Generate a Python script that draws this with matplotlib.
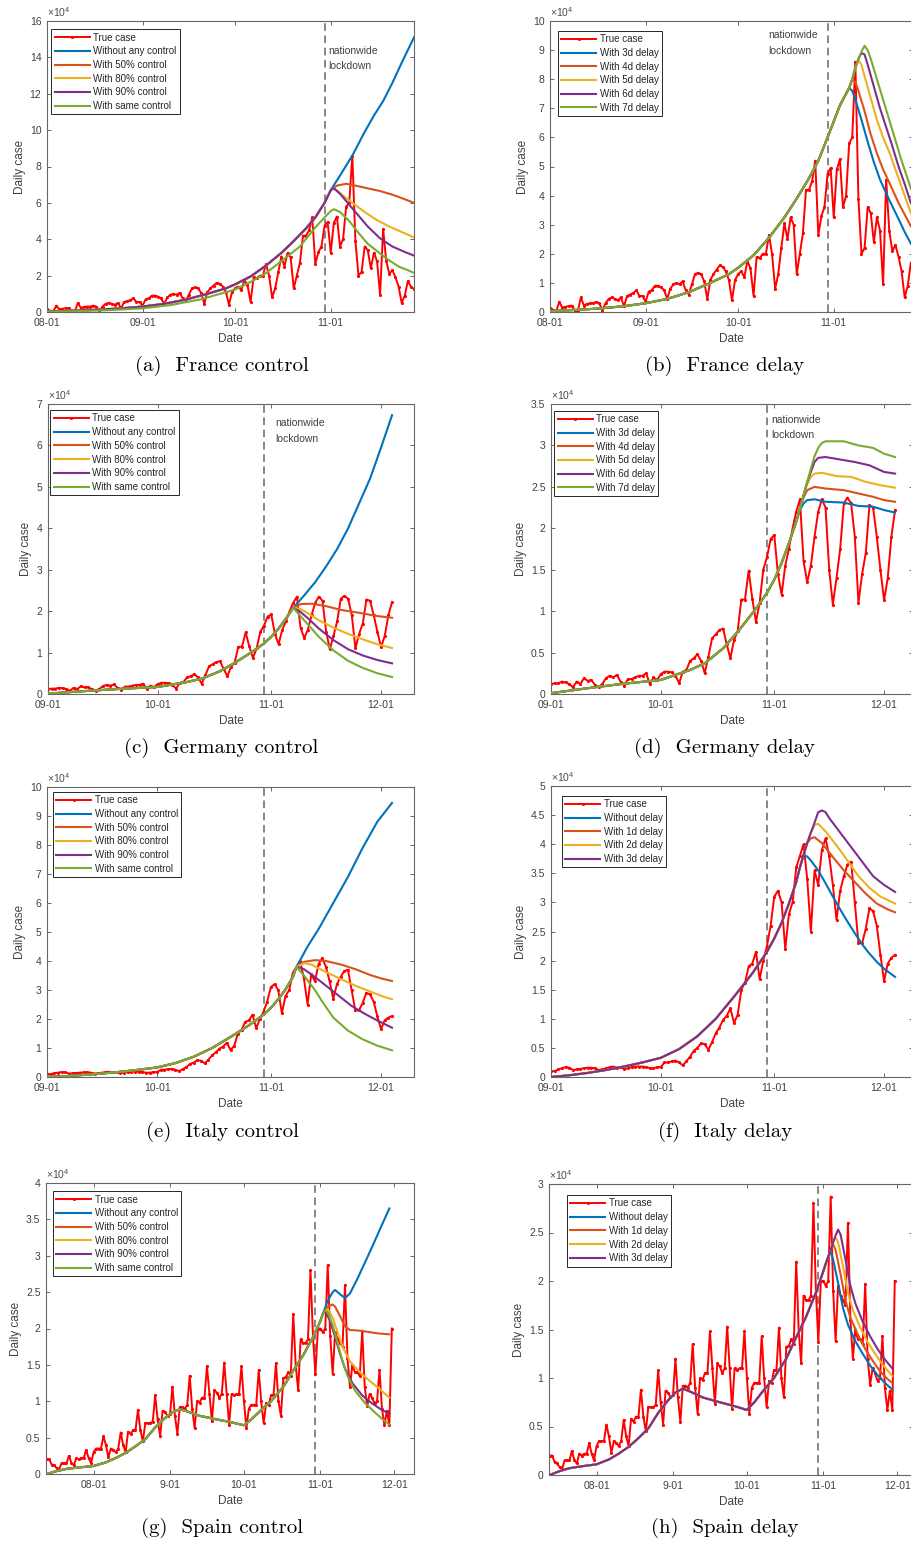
import numpy as np
import matplotlib
matplotlib.use('Agg')
import matplotlib.pyplot as plt
from matplotlib.ticker import FormatStrFormatter

plt.rcParams['font.family'] = ['Liberation Sans', 'DejaVu Sans']
plt.rcParams['mathtext.fontset'] = 'custom'
plt.rcParams['mathtext.rm'] = 'Liberation Sans'

# all values in units of 1e4 daily cases
# ---------------- France (day 0 = 08-01) ----------------
fr_true = [0.14, 0.08, 0.02, 0.35, 0.15, 0.18, 0.2, 0.22, 0.05, 0.02,
           0.5, 0.22, 0.28, 0.3, 0.3, 0.35, 0.3, 0.05, 0.3, 0.45,
           0.5, 0.45, 0.4, 0.5, 0.2, 0.55, 0.6, 0.65, 0.75, 0.55,
           0.55, 0.35, 0.7, 0.75, 0.9, 0.9, 0.85, 0.75, 0.45, 0.8,
           0.95, 1.0, 0.95, 1.05, 0.75, 0.6, 0.95, 1.3, 1.35, 1.3,
           1.05, 0.45, 1.1, 1.3, 1.45, 1.6, 1.55, 1.4, 1.1, 0.4,
           1.1, 1.3, 1.4, 1.2, 1.75, 1.5, 0.55, 1.9, 1.85, 2.0,
           2.0, 2.65, 2.0, 0.8, 1.3, 2.2, 3.05, 2.5, 3.25, 3.0,
           1.3, 2.0, 2.7, 4.2, 4.2, 4.5, 5.2, 2.65, 3.3, 3.6,
           4.75, 4.95, 3.25, 4.9, 5.25, 3.6, 4.0, 5.8, 6.0, 8.6,
           3.9, 2.0, 2.2, 3.6, 3.4, 2.4, 3.25, 2.8, 0.95, 4.55,
           2.8, 2.1, 2.3, 1.9, 1.4, 0.5, 0.9, 1.7, 1.4, 1.25]
fr_model_days = [0, 8, 16, 24, 31, 38, 45, 52, 58, 61, 66, 71, 76, 80, 84, 87, 90]
fr_model = [0.03, 0.07, 0.12, 0.2, 0.3, 0.45, 0.68, 1.0, 1.3, 1.52, 1.95, 2.55, 3.25, 3.9, 4.6, 5.2, 6.0]

# (a) control scenarios
fa_none_days = [92, 95, 99, 103, 106, 109, 112, 115, 117, 119]
fa_none = [6.7, 7.5, 8.6, 9.9, 10.8, 11.6, 12.6, 13.7, 14.4, 15.1]
fa_c50_days = [92, 94, 97, 100, 104, 108, 112, 116, 119]
fa_c50 = [6.7, 6.95, 7.05, 6.95, 6.8, 6.65, 6.45, 6.2, 6.0]
fa_c80_days = [92, 93, 94, 96, 99, 103, 107, 111, 115, 119]
fa_c80 = [6.7, 6.8, 6.7, 6.4, 6.0, 5.5, 5.05, 4.7, 4.4, 4.1]
fa_c90_days = [92, 93, 95, 98, 101, 104, 108, 112, 116, 119]
fa_c90 = [6.7, 6.8, 6.5, 5.9, 5.3, 4.7, 4.05, 3.6, 3.3, 3.1]
fa_same_days = [0, 10, 20, 31, 40, 50, 61, 66, 71, 76, 82, 87, 90, 92, 93, 95,
                98, 101, 104, 107, 110, 114, 117, 119]
fa_same = [0.02, 0.05, 0.1, 0.2, 0.38, 0.7, 1.24, 1.65, 2.14, 2.8, 3.6, 4.65, 5.2, 5.55, 5.65, 5.5,
           5.0, 4.35, 3.75, 3.35, 2.95, 2.5, 2.3, 2.15]

# (b) delay scenarios
fb_rise_days = [92, 94, 96, 97, 98, 99, 100, 101, 102]
fb_rise = [6.55, 7.1, 7.5, 7.7, 8.0, 8.4, 8.7, 8.95, 9.15]
fb_d3_days = [98, 99, 101, 103, 105, 107, 110, 113, 115, 117, 119]
fb_d3 = [7.6, 7.3, 6.6, 5.85, 5.15, 4.55, 3.85, 3.2, 2.75, 2.35, 2.1]
fb_d4_days = [99, 100, 102, 104, 106, 108, 110, 113, 117, 119]
fb_d4 = [7.9, 7.6, 6.9, 6.1, 5.45, 4.9, 4.45, 3.75, 2.95, 2.65]
fb_d5_days = [100, 101, 102, 104, 106, 108, 110, 112, 114, 117, 119]
fb_d5 = [8.65, 8.5, 8.1, 7.35, 6.6, 6.0, 5.5, 4.9, 4.3, 3.4, 3.0]
fb_d6_days = [101, 102, 103, 105, 107, 109, 111, 113, 115, 117, 119]
fb_d6 = [8.9, 8.85, 8.5, 7.75, 7.0, 6.35, 5.7, 5.0, 4.4, 3.75, 3.4]
fb_d7_days = [103, 104, 106, 108, 110, 112, 114, 117, 119]
fb_d7 = [9.0, 8.7, 8.0, 7.3, 6.6, 5.9, 5.2, 4.25, 3.8]

# ---------------- Germany (day 0 = 09-01) ----------------
ger_true = [0.12, 0.13, 0.13, 0.15, 0.14, 0.12, 0.08, 0.15, 0.12, 0.19,
            0.16, 0.17, 0.11, 0.08, 0.12, 0.19, 0.22, 0.2, 0.23, 0.15,
            0.1, 0.18, 0.18, 0.2, 0.22, 0.22, 0.25, 0.12, 0.2, 0.17,
            0.24, 0.27, 0.27, 0.26, 0.22, 0.13, 0.27, 0.29, 0.4, 0.43,
            0.48, 0.4, 0.25, 0.45, 0.67, 0.72, 0.77, 0.79, 0.6, 0.43,
            0.65, 0.76, 1.14, 1.14, 1.49, 1.15, 0.87, 1.1, 1.5, 1.65,
            1.87, 1.92, 1.45, 1.2, 1.55, 1.75, 2.0, 2.2, 2.35, 1.6,
            1.35, 1.55, 1.9, 2.2, 2.35, 2.25, 1.5, 1.08, 1.4, 1.75,
            2.3, 2.37, 2.3, 1.9, 1.1, 1.45, 1.7, 2.28, 2.25, 1.9,
            1.5, 1.13, 1.4, 1.9, 2.22]
ger_model_days = [0, 10, 19, 30, 38, 42, 47, 51, 56, 59, 61, 63, 65, 67]
ger_model = [0.01, 0.07, 0.12, 0.17, 0.29, 0.37, 0.55, 0.75, 1.03, 1.22, 1.38, 1.58, 1.82, 2.08]

gc_none_days = [70, 73, 76, 79, 82, 85, 88, 91, 94]
gc_none = [2.38, 2.7, 3.08, 3.5, 4.0, 4.6, 5.2, 5.95, 6.73]
gc_c50_days = [69, 72, 76, 80, 85, 90, 94]
gc_c50 = [2.17, 2.18, 2.12, 2.03, 1.96, 1.88, 1.84]
gc_low_days = [69, 71, 74, 78, 82, 86, 90, 94]
gc_c80 = [2.05, 1.95, 1.78, 1.6, 1.45, 1.32, 1.2, 1.11]
gc_c90 = [1.98, 1.83, 1.58, 1.3, 1.08, 0.93, 0.82, 0.74]
gc_same = [1.88, 1.68, 1.38, 1.05, 0.8, 0.63, 0.5, 0.41]

gd_rise_days = [68, 69, 70, 71, 72, 73, 74, 75]
gd_rise = [2.24, 2.4, 2.56, 2.72, 2.87, 2.97, 3.03, 3.05]
gd_d3_days = [68, 69, 70, 72, 75, 80, 84, 88, 91, 94]
gd_d3 = [2.22, 2.3, 2.34, 2.35, 2.32, 2.31, 2.27, 2.26, 2.22, 2.19]
gd_d4_days = [69, 70, 72, 75, 80, 84, 88, 91, 94]
gd_d4 = [2.37, 2.46, 2.5, 2.48, 2.46, 2.42, 2.38, 2.34, 2.32]
gd_d5_days = [70, 71, 72, 74, 78, 82, 86, 90, 94]
gd_d5 = [2.53, 2.62, 2.66, 2.67, 2.63, 2.62, 2.56, 2.52, 2.49]
gd_d6_days = [71, 72, 73, 75, 79, 83, 87, 91, 94]
gd_d6 = [2.68, 2.8, 2.85, 2.86, 2.83, 2.8, 2.76, 2.68, 2.66]
gd_d7_days = [80, 84, 88, 91, 94]
gd_d7 = [3.05, 3.0, 2.97, 2.9, 2.86]

# ---------------- Italy (day 0 = 09-01) ----------------
ita_true = [0.1, 0.1, 0.13, 0.15, 0.17, 0.16, 0.12, 0.13, 0.14, 0.15,
            0.16, 0.16, 0.15, 0.12, 0.13, 0.15, 0.17, 0.18, 0.16, 0.17,
            0.14, 0.15, 0.17, 0.18, 0.18, 0.18, 0.17, 0.15, 0.15, 0.17,
            0.17, 0.25, 0.25, 0.27, 0.28, 0.25, 0.2, 0.27, 0.35, 0.45,
            0.5, 0.58, 0.56, 0.47, 0.6, 0.75, 0.85, 0.98, 1.05, 1.18,
            0.93, 1.07, 1.5, 1.62, 1.9, 1.95, 2.15, 1.68, 2.0, 2.25,
            2.6, 3.1, 3.2, 3.0, 2.2, 2.8, 3.0, 3.6, 3.8, 4.0,
            3.4, 2.5, 3.55, 3.3, 3.9, 4.1, 3.8, 3.3, 2.7, 3.2,
            3.45, 3.65, 3.7, 3.0, 2.3, 2.3, 2.55, 2.9, 2.85, 2.6,
            2.1, 1.65, 1.95, 2.05, 2.1]
ita_model_days = [0, 5, 10, 15, 20, 25, 30, 35, 40, 45, 50, 55, 59, 61]
ita_model = [0.0, 0.03, 0.07, 0.12, 0.18, 0.25, 0.33, 0.48, 0.7, 1.0, 1.38, 1.78, 2.15, 2.38]

ie_rise_days = [63, 65, 67, 68]
ie_rise = [2.68, 3.02, 3.45, 3.8]
ie_none_days = [71, 74, 78, 82, 86, 90, 94]
ie_none = [4.5, 5.1, 6.0, 6.9, 7.9, 8.8, 9.45]
ie_c50_days = [70, 73, 76, 80, 84, 88, 91, 94]
ie_c50 = [3.97, 4.03, 4.0, 3.88, 3.72, 3.52, 3.4, 3.31]
ie_c80_days = [70, 72, 76, 80, 84, 88, 91, 94]
ie_c80 = [3.92, 3.88, 3.62, 3.38, 3.15, 2.95, 2.8, 2.68]
ie_c90_days = [70, 73, 76, 79, 83, 87, 90, 94]
ie_c90 = [3.72, 3.45, 3.15, 2.85, 2.45, 2.15, 1.95, 1.7]
ie_same_days = [70, 73, 75, 78, 82, 86, 90, 94]
ie_same = [3.5, 3.0, 2.6, 2.05, 1.6, 1.3, 1.08, 0.92]

if_rise_days = [63, 65, 67, 68, 69, 70, 71, 72, 73, 74]
if_rise = [2.65, 2.98, 3.35, 3.6, 3.82, 4.02, 4.2, 4.37, 4.55, 4.58]
if_d0_days = [69, 70, 71, 73, 75, 77, 79, 81, 83, 85, 87, 89, 91, 94]
if_d0 = [3.8, 3.79, 3.72, 3.55, 3.33, 3.1, 2.88, 2.67, 2.47, 2.28, 2.12, 1.98, 1.86, 1.72]
if_d1_days = [71, 72, 74, 77, 80, 83, 86, 89, 92, 94]
if_d1 = [4.1, 4.12, 4.02, 3.78, 3.55, 3.35, 3.15, 2.98, 2.88, 2.83]
if_d2_days = [72, 73, 75, 78, 81, 84, 87, 90, 94]
if_d2 = [4.33, 4.35, 4.22, 3.98, 3.72, 3.45, 3.25, 3.1, 2.98]
if_d3_days = [75, 76, 79, 82, 85, 88, 91, 94]
if_d3 = [4.55, 4.45, 4.2, 3.95, 3.7, 3.45, 3.3, 3.18]

# ---------------- Spain (day 0 = 07-13) ----------------
spa_true = [0.2, 0.2, 0.13, 0.12, 0.08, 0.06, 0.15, 0.15, 0.15, 0.25,
            0.15, 0.12, 0.22, 0.2, 0.22, 0.22, 0.33, 0.22, 0.15, 0.3,
            0.35, 0.35, 0.35, 0.52, 0.4, 0.23, 0.35, 0.33, 0.3, 0.35,
            0.57, 0.4, 0.3, 0.58, 0.55, 0.6, 0.6, 0.88, 0.6, 0.45,
            0.7, 0.7, 0.7, 0.72, 1.08, 0.75, 0.52, 0.87, 0.85, 0.8,
            0.82, 1.2, 0.8, 0.55, 0.92, 0.92, 0.9, 0.95, 1.35, 0.9,
            0.63, 1.0, 0.98, 1.05, 1.05, 1.48, 1.1, 0.73, 1.15, 1.12,
            1.05, 1.1, 1.53, 1.1, 0.68, 1.1, 1.08, 1.1, 1.1, 1.48,
            1.0, 0.63, 0.9, 0.95, 0.95, 0.95, 1.43, 1.0, 0.7, 0.97,
            0.95, 1.08, 1.08, 1.52, 1.0, 0.8, 1.32, 1.33, 1.4, 1.35,
            2.2, 1.5, 1.15, 1.85, 1.8, 1.8, 1.85, 2.8, 1.9, 1.37,
            2.0, 2.0, 1.95, 2.0, 2.87, 1.9, 1.38, 1.95, 1.85, 1.8,
            1.75, 2.6, 1.6, 1.2, 1.5, 1.4, 1.4, 1.35, 1.97, 1.2,
            0.93, 1.1, 1.05, 0.97, 1.0, 1.43, 0.9, 0.67, 0.87, 0.67,
            2.0]
spa_model_days = [0, 4, 8, 13, 19, 24, 28, 32, 36, 40, 44, 48, 51, 54, 57, 62, 69, 75,
                  80, 83, 87, 91, 96, 100, 104, 108, 111]
spa_model = [0.0, 0.04, 0.07, 0.09, 0.11, 0.16, 0.22, 0.29, 0.38, 0.48, 0.64, 0.77, 0.85, 0.89,
             0.86, 0.8, 0.75, 0.71, 0.67, 0.75, 0.88, 1.0, 1.2, 1.42, 1.63, 1.88, 2.1]

sg_none_days = [112, 114, 116, 117, 119, 121, 123, 126, 129, 132, 135, 137, 139]
sg_none = [2.2, 2.38, 2.5, 2.53, 2.47, 2.42, 2.48, 2.68, 2.9, 3.12, 3.35, 3.5, 3.65]
sg_c50_days = [112, 114, 116, 117, 119, 121, 123, 127, 131, 135, 139]
sg_c50 = [2.2, 2.3, 2.33, 2.3, 2.17, 2.03, 1.98, 1.97, 1.95, 1.93, 1.92]
sg_c80_days = [112, 114, 116, 118, 120, 123, 127, 131, 135, 139]
sg_c80 = [2.2, 2.27, 2.15, 1.95, 1.75, 1.55, 1.4, 1.28, 1.17, 1.05]
sg_c90_days = [112, 113, 115, 117, 119, 121, 124, 128, 132, 136, 139]
sg_c90 = [2.2, 2.24, 2.1, 1.88, 1.65, 1.45, 1.25, 1.08, 0.97, 0.88, 0.83]
sg_same_days = [112, 113, 114, 116, 118, 120, 122, 125, 129, 133, 136, 139]
sg_same = [2.2, 2.25, 2.22, 2.05, 1.8, 1.55, 1.35, 1.15, 0.98, 0.85, 0.76, 0.68]

sh_rise_days = [112, 113, 114, 115, 116, 117]
sh_rise = [2.18, 2.25, 2.32, 2.4, 2.47, 2.53]
sh_d0_days = [114, 115, 117, 119, 121, 124, 127, 130, 133, 136, 139]
sh_d0 = [2.3, 2.22, 1.98, 1.72, 1.55, 1.38, 1.25, 1.13, 1.03, 0.95, 0.88]
sh_d1_days = [115, 116, 118, 120, 122, 125, 128, 131, 134, 137, 139]
sh_d1 = [2.38, 2.32, 2.07, 1.8, 1.62, 1.45, 1.3, 1.18, 1.07, 0.99, 0.95]
sh_d2_days = [116, 117, 119, 121, 123, 126, 129, 132, 135, 139]
sh_d2 = [2.45, 2.4, 2.15, 1.88, 1.7, 1.52, 1.37, 1.25, 1.14, 1.02]
sh_d3_days = [118, 120, 122, 124, 127, 130, 133, 136, 139]
sh_d3 = [2.48, 2.22, 1.95, 1.77, 1.58, 1.43, 1.3, 1.19, 1.1]

fr_ticks, fr_ticklabels = [0, 31, 61, 92], ['08-01', '09-01', '10-01', '11-01']
ger_ticks, ger_ticklabels = [0, 30, 61, 91], ['09-01', '10-01', '11-01', '12-01']
spa_ticks, spa_ticklabels = [19, 50, 80, 111, 141], ['08-01', '9-01', '10-01', '11-01', '12-01']

control_labels = ['True case', 'Without any control', 'With 50% control',
                  'With 80% control', 'With 90% control', 'With same control']
delay7_labels = ['True case', 'With 3d delay', 'With 4d delay', 'With 5d delay',
                 'With 6d delay', 'With 7d delay']
delay3_labels = ['True case', 'Without delay', 'With 1d delay', 'With 2d delay', 'With 3d delay']

colors = ['#0072BD', '#D95319', '#EDB120', '#7E2F8E', '#77AC30']

W, H = 911, 1542
fig = plt.figure(figsize=(W / 100, H / 100), dpi=100)


def add_ax(l, t, r, b):
    return fig.add_axes([l / W, 1 - b / H, (r - l) / W, (b - t) / H])


def panel(box, xlim, ymax, ystep, ticks, ticklabels, lockday):
    ax = add_ax(*box)
    ax.set_xlim(*xlim)
    ax.set_ylim(0, ymax)
    ax.set_yticks(np.arange(0, ymax + 1e-9, ystep))
    ax.yaxis.set_major_formatter(FormatStrFormatter('%g'))
    ax.set_xticks(ticks)
    ax.set_xticklabels(ticklabels)
    ax.tick_params(direction='in', top=True, right=True, length=3, width=0.6,
                   labelsize=7.5, color='0.3', labelcolor='0.25', pad=4)
    for s in ax.spines.values():
        s.set_color('0.4')
        s.set_linewidth(0.8)
    ax.set_xlabel('Date', fontsize=8.5, color='0.25', labelpad=4)
    ax.set_ylabel('Daily case', fontsize=8.5, color='0.25', labelpad=3)
    ax.axvline(lockday, color='0.4', linestyle=(0, (5, 3)), linewidth=1.1, zorder=1)
    ax.text(0, 1.008, '×10$^4$', transform=ax.transAxes, ha='left', va='bottom',
            fontsize=7.5, color='0.3')
    return ax


def draw(ax, true_vals, curves, labels, legpos):
    lines = []
    l, = ax.plot(np.arange(len(true_vals)), true_vals, color='r', lw=1.4,
                 marker='.', ms=2.5, zorder=2)
    lines.append(l)
    for (xs, ys), c in zip(curves, colors):
        l, = ax.plot(xs, ys, color=c, lw=1.5, zorder=3)
        lines.append(l)
    leg = ax.legend(lines, labels, loc='upper left', bbox_to_anchor=legpos,
                    borderaxespad=0, fontsize=7, fancybox=False, framealpha=1,
                    edgecolor='0.15', handlelength=3.6, labelspacing=0.38,
                    handletextpad=0.35, borderpad=0.35)
    leg.get_frame().set_linewidth(0.7)
    for t in leg.get_texts():
        t.set_color('0.15')


def lockdown_text(ax, x, y):
    ax.text(x, y, 'nationwide\nlockdown', transform=ax.get_xaxis_transform(),
            ha='left', va='top', fontsize=7.5, color='0.25', linespacing=1.7)


def caption(x, y, s):
    fig.text(x / W, 1 - y / H, s, ha='center', va='center', fontsize=15,
             family=['cmr10', 'DejaVu Serif'])


# (a) France control
ax = panel((47, 21, 414, 312), (0, 119), 16, 2, fr_ticks, fr_ticklabels, 90)
draw(ax, fr_true,
     [(fr_model_days + fa_none_days, fr_model + fa_none),
      (fr_model_days + fa_c50_days, fr_model + fa_c50),
      (fr_model_days + fa_c80_days, fr_model + fa_c80),
      (fr_model_days + fa_c90_days, fr_model + fa_c90),
      (fa_same_days, fa_same)],
     control_labels, (0.012, 0.972))
lockdown_text(ax, 91.3, 0.915)
caption(222, 366, '(a)  France control')

# (b) France delay (right edge of the axes is cut off by the page)
ax = panel((550, 21, 913, 312), (0, 117.7), 10, 1, fr_ticks, fr_ticklabels, 90)
draw(ax, fr_true,
     [(fr_model_days + fb_rise_days[:4] + fb_d3_days, fr_model + fb_rise[:4] + fb_d3),
      (fr_model_days + fb_rise_days[:5] + fb_d4_days, fr_model + fb_rise[:5] + fb_d4),
      (fr_model_days + fb_rise_days[:6] + fb_d5_days, fr_model + fb_rise[:6] + fb_d5),
      (fr_model_days + fb_rise_days[:7] + fb_d6_days, fr_model + fb_rise[:7] + fb_d6),
      (fr_model_days + fb_rise_days + fb_d7_days, fr_model + fb_rise + fb_d7)],
     delay7_labels, (0.022, 0.966))
lockdown_text(ax, 70.8, 0.968)
caption(725, 366, '(b)  France delay')

# (c) Germany control
ax = panel((48, 404, 414, 694), (0, 100), 7, 1, ger_ticks, ger_ticklabels, 59)
draw(ax, ger_true,
     [(ger_model_days + gc_none_days, ger_model + gc_none),
      (ger_model_days + gc_c50_days, ger_model + gc_c50),
      (ger_model_days + gc_low_days, ger_model + gc_c80),
      (ger_model_days + gc_low_days, ger_model + gc_c90),
      (ger_model_days + gc_low_days, ger_model + gc_same)],
     control_labels, (0.006, 0.979))
lockdown_text(ax, 62.2, 0.95)
caption(221, 748, '(c)  Germany control')

# (d) Germany delay
ax = panel((551, 404, 913, 694), (0, 98.9), 3.5, 0.5, ger_ticks, ger_ticklabels, 59)
draw(ax, ger_true,
     [(ger_model_days + gd_d3_days, ger_model + gd_d3),
      (ger_model_days + gd_rise_days[:1] + gd_d4_days, ger_model + gd_rise[:1] + gd_d4),
      (ger_model_days + gd_rise_days[:2] + gd_d5_days, ger_model + gd_rise[:2] + gd_d5),
      (ger_model_days + gd_rise_days[:3] + gd_d6_days, ger_model + gd_rise[:3] + gd_d6),
      (ger_model_days + gd_rise_days + gd_d7_days, ger_model + gd_rise + gd_d7)],
     delay7_labels, (0.009, 0.976))
lockdown_text(ax, 60.3, 0.963)
caption(725, 748, '(d)  Germany delay')

# (e) Italy control
ie_pre_days = ita_model_days + ie_rise_days
ie_pre = ita_model + ie_rise
ax = panel((47, 787, 414, 1077), (0, 100), 10, 1, ger_ticks, ger_ticklabels, 59)
draw(ax, ita_true,
     [(ie_pre_days + ie_none_days, ie_pre + ie_none),
      (ie_pre_days + ie_c50_days, ie_pre + ie_c50),
      (ie_pre_days + ie_c80_days, ie_pre + ie_c80),
      (ie_pre_days + ie_c90_days, ie_pre + ie_c90),
      (ie_pre_days + ie_same_days, ie_pre + ie_same)],
     control_labels, (0.016, 0.983))
caption(222, 1132, '(e)  Italy control')

# (f) Italy delay
ax = panel((551, 786, 913, 1077), (0, 98.9), 5, 0.5, ger_ticks, ger_ticklabels, 59)
draw(ax, ita_true,
     [(ita_model_days + if_rise_days[:4] + if_d0_days, ita_model + if_rise[:4] + if_d0),
      (ita_model_days + if_rise_days[:6] + if_d1_days, ita_model + if_rise[:6] + if_d1),
      (ita_model_days + if_rise_days[:7] + if_d2_days, ita_model + if_rise[:7] + if_d2),
      (ita_model_days + if_rise_days + if_d3_days, ita_model + if_rise + if_d3)],
     delay3_labels, (0.03, 0.966))
caption(725, 1132, '(f)  Italy delay')

# (g) Spain control
ax = panel((46, 1183, 414, 1474), (-0.3, 149), 4, 0.5, spa_ticks, spa_ticklabels, 109)
draw(ax, spa_true,
     [(spa_model_days + sg_none_days, spa_model + sg_none),
      (spa_model_days + sg_c50_days, spa_model + sg_c50),
      (spa_model_days + sg_c80_days, spa_model + sg_c80),
      (spa_model_days + sg_c90_days, spa_model + sg_c90),
      (spa_model_days + sg_same_days, spa_model + sg_same)],
     control_labels, (0.019, 0.972))
caption(222, 1528, '(g)  Spain control')

# (h) Spain delay
ax = panel((549, 1184, 913, 1475), (-0.3, 147.4), 3, 0.5, spa_ticks, spa_ticklabels, 109)
draw(ax, spa_true,
     [(spa_model_days + sh_rise_days[:2] + sh_d0_days, spa_model + sh_rise[:2] + sh_d0),
      (spa_model_days + sh_rise_days[:3] + sh_d1_days, spa_model + sh_rise[:3] + sh_d1),
      (spa_model_days + sh_rise_days[:4] + sh_d2_days, spa_model + sh_rise[:4] + sh_d2),
      (spa_model_days + sh_rise_days + sh_d3_days, spa_model + sh_rise + sh_d3)],
     delay3_labels, (0.049, 0.962))
caption(725, 1528, '(h)  Spain delay')

fig.savefig('out.png', dpi=100)
